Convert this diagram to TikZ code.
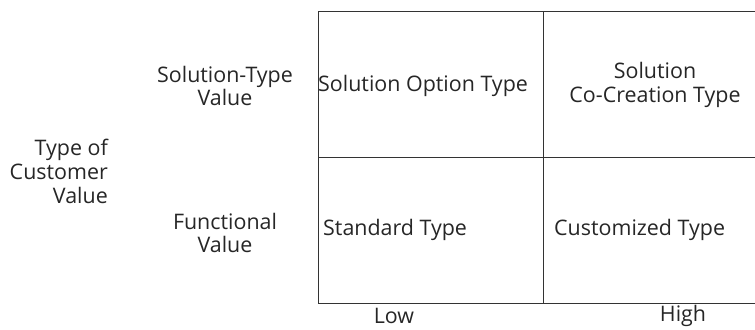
\documentclass[tikz,border=0pt]{standalone}
\usepackage{fontspec}
\setmainfont{Open Sans}
\begin{document}
\begin{tikzpicture}[x=1bp,y=-1bp,
  grid/.style={draw=black!80,line width=1.2bp},
  lbl/.style={inner sep=0pt,text=black!85,font=\fontsize{21.5}{24}\selectfont,align=center},
  lblr/.style={lbl,align=right},
  lbll/.style={lbl,anchor=west}]
\useasboundingbox (0,0) rectangle (755,329);
% matrix frame: open on the right side
\coordinate (tl) at (318.5,11.5);
\coordinate (bl) at (318.5,303.5);
\coordinate (tr) at (755,11.5);
\coordinate (br) at (755,303.5);
\coordinate (ml) at (318.5,157.5);
\coordinate (mr) at (755,157.5);
\coordinate (mt) at (543.5,11.5);
\coordinate (mb) at (543.5,303.5);
\draw[grid] (tr) -- (tl) -- (bl) -- (br);
\draw[grid] (ml) -- (mr);
\draw[grid] (mt) -- (mb);
% row labels
\node[lbl] (soltype) at (225,86) {Solution-Type\\Value};
\node[lbl] (func) at (225,233) {Functional\\Value};
\node[lblr,anchor=east] (custval) at (108,171) {Type of\\Customer\\Value};
% cells
\node[lbll] (option) at (318,86) {Solution Option Type};
\node[lbl] (cocreate) at (655,85) {Solution\\Co-Creation Type};
\node[lbll] (standard) at (323,230) {Standard Type};
\node[lbll] (custom) at (554,230) {Customized Type};
% column labels
\node[lbl] (low) at (394,316) {Low};
\node[lbl] (high) at (683,316) {High};
\end{tikzpicture}
\end{document}
